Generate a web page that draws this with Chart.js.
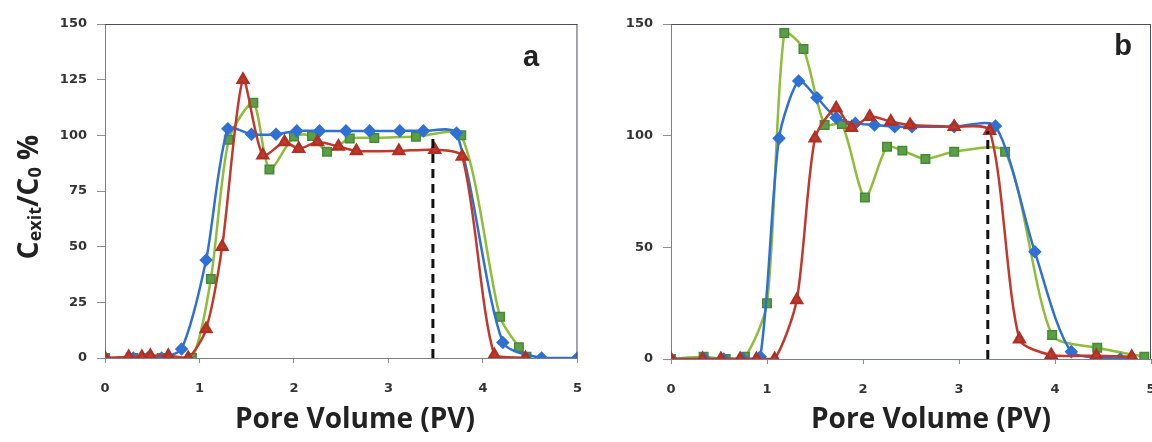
<!DOCTYPE html>
<html>
<head>
<meta charset="utf-8">
<script src="https://cdn.jsdelivr.net/npm/chart.js@4.4.1/dist/chart.umd.min.js"></script>
<style>
  html, body { margin: 0; padding: 0; background: #ffffff; overflow: hidden; }
  #wrap { position: relative; width: 1152px; height: 442px; overflow: hidden; }
  .panel { position: absolute; top: 0; height: 442px; }
  #pa { left: 0; width: 600px; }
  #pb { left: 600px; width: 580px; }
</style>
</head>
<body>
<div id="wrap">
  <div class="panel" id="pa"><canvas id="ca" width="600" height="442"></canvas></div>
  <div class="panel" id="pb"><canvas id="cb" width="580" height="442"></canvas></div>
</div>
<script>
// Panel a: exit concentration vs pore volume
const aBlueX  = [0, 0.30, 0.45, 0.60, 0.81, 1.07, 1.30, 1.55, 1.81, 2.03, 2.27, 2.55, 2.80, 3.12, 3.37, 3.72, 4.21, 4.62, 5.00];
const aBlueY  = [0, 0, 0, 0, 4, 44, 103, 100.5, 100.5, 102, 102, 102, 102, 102, 102, 101, 7, 0, 0];
const aGreenX = [0, 0.30, 0.45, 0.60, 0.92, 1.12, 1.31, 1.57, 1.74, 2.00, 2.19, 2.35, 2.59, 2.85, 3.29, 3.77, 4.18, 4.38, 4.46];
const aGreenY = [0, 0, 0, 0, 0, 35.5, 98, 114.6, 84.7, 99.5, 99.7, 92.6, 98.6, 98.8, 99.4, 100, 18.5, 4.8, 0.6];
const aRedX   = [0, 0.25, 0.39, 0.48, 0.67, 0.88, 1.07, 1.24, 1.46, 1.67, 1.90, 2.05, 2.25, 2.47, 2.66, 3.11, 3.49, 3.78, 4.12, 4.45];
const aRedY   = [0, 0.5, 0.5, 1, 1, 0, 13, 50, 125, 91, 97, 94, 97, 95, 93, 93, 93.5, 90.5, 1.3, 0];
const aMarkX  = [3.47, 3.47];
const aMarkY  = [0, 100];

// Panel b
const bBlueX  = [0, 0.35, 0.55, 0.75, 0.93, 1.125, 1.33, 1.52, 1.72, 1.92, 2.12, 2.33, 2.51, 2.95, 3.38, 3.79, 4.17, 4.68];
const bBlueY  = [0, 0, 0, 0, 1, 98.8, 124.5, 117, 108, 105.5, 104.8, 104, 104, 104, 104.3, 48, 3.3, 0];
const bGreenX = [0, 0.34, 0.57, 0.77, 1.00, 1.18, 1.38, 1.60, 1.78, 2.02, 2.25, 2.41, 2.65, 2.95, 3.48, 3.97, 4.44, 4.93];
const bGreenY = [0, 1, 0, 1, 25, 146, 138.8, 104.8, 105.2, 72.3, 95, 93.3, 89.6, 92.8, 92.8, 10.7, 5, 1];
const bRedX   = [0, 0.33, 0.52, 0.72, 0.89, 1.08, 1.31, 1.50, 1.72, 1.88, 2.07, 2.29, 2.49, 2.95, 3.32, 3.63, 3.96, 4.43, 4.80];
const bRedY   = [0, 0, 0, 0, 0, 0, 26.4, 98.8, 112.3, 103.6, 108.5, 106.3, 104.8, 104, 102.2, 8.8, 1.8, 1.5, 1.0];
const bMarkX  = [3.30, 3.30];
const bMarkY  = [0, 102];

const xTicks = [0, 1, 2, 3, 4, 5];
const aYTicks = [0, 25, 50, 75, 100, 125, 150];
const bYTicks = [0, 50, 100, 150];

const BLUE = '#2f70d4';
const RED = '#c0392b';
const GREEN_LINE = '#8fbd3a';
const GREEN_FILL = '#5c9e46';
const GREEN_EDGE = '#458a36';
const TICK_FONT = { family: 'DejaVu Sans', size: 13, weight: 'bold' };

function pts(xs, ys) { return xs.map((x, i) => ({ x: x, y: ys[i] })); }

function series(xs, ys, kind) {
  const base = { data: pts(xs, ys), showLine: true, tension: 0.25, borderWidth: 2.5 };
  if (kind === 'blue') return Object.assign(base, { borderColor: BLUE, backgroundColor: BLUE, pointStyle: 'rectRot', pointRadius: 5, pointBorderColor: BLUE });
  if (kind === 'red') return Object.assign(base, { borderColor: RED, backgroundColor: RED, pointStyle: 'triangle', pointRadius: 6, pointBorderColor: '#b03025' });
  return Object.assign(base, { borderColor: GREEN_LINE, backgroundColor: GREEN_FILL, pointStyle: 'rect', pointRadius: 6, pointBorderColor: GREEN_EDGE, pointBorderWidth: 1.5 });
}

function marker(xs, ys) {
  return { data: pts(xs, ys), showLine: true, tension: 0, borderColor: '#111111', borderWidth: 3, borderDash: [9, 6], pointRadius: 0 };
}

// frame around the plot area plus the panel's own texts
function decorations(opts) {
  return {
    id: 'decor',
    afterDraw(chart) {
      const ctx = chart.ctx, a = chart.chartArea;
      ctx.save();
      ctx.strokeStyle = '#4a4f5a';
      ctx.lineWidth = 1;
      ctx.beginPath();
      ctx.moveTo(a.left, a.top + 0.5); ctx.lineTo(a.right, a.top + 0.5);
      ctx.moveTo(a.right - 0.5, a.top); ctx.lineTo(a.right - 0.5, a.bottom);
      ctx.stroke();

      ctx.fillStyle = '#222222';
      ctx.font = 'bold 29px "Liberation Sans"';
      ctx.textAlign = 'center';
      ctx.textBaseline = 'alphabetic';
      ctx.fillText(opts.letter, opts.letterX, opts.letterY);

      ctx.font = 'bold 28px "Open Sans"';
      ctx.textBaseline = 'middle';
      ctx.fillText('Pore Volume (PV)', opts.titleX, 420);

      if (opts.yTitle) {
        const parts = [
          { t: 'C', f: 'bold 28px "Open Sans"', dy: 0 },
          { t: 'exit', f: 'bold 18px "Open Sans"', dy: 3 },
          { t: '/', f: 'bold 28px "Open Sans"', dy: 0 },
          { t: 'C', f: 'bold 28px "Open Sans"', dy: 0 },
          { t: '0', f: 'bold 18px "Open Sans"', dy: 3 },
          { t: ' %', f: 'bold 28px "Open Sans"', dy: 0 }
        ];
        let total = 0;
        parts.forEach(p => { ctx.font = p.f; p.w = ctx.measureText(p.t).width; total += p.w; });
        ctx.translate(38, 197);
        ctx.rotate(-Math.PI / 2);
        ctx.textAlign = 'left';
        ctx.textBaseline = 'alphabetic';
        let x = -total / 2;
        parts.forEach(p => { ctx.font = p.f; ctx.fillText(p.t, x, p.dy); x += p.w; });
      }
      ctx.restore();
    }
  };
}

function makeChart(id, sets, yTicks, axisW, padRight, xH, letterOpts) {
  return new Chart(document.getElementById(id), {
    type: 'scatter',
    data: { datasets: sets },
    options: {
      responsive: false,
      animation: false,
      layout: { padding: { top: 24, right: padRight, left: 0, bottom: 0 } },
      plugins: { legend: { display: false }, tooltip: { enabled: false } },
      scales: {
        x: {
          type: 'linear', min: 0, max: 5,
          afterBuildTicks(s) { s.ticks = xTicks.map(v => ({ value: v })); },
          afterFit(s) { s.height = xH; },
          border: { display: true, color: '#7a7f88', width: 1 },
          grid: { drawOnChartArea: false, drawTicks: true, tickLength: 5, color: '#8a8f98' },
          ticks: { font: TICK_FONT, color: '#333333', padding: 18, maxRotation: 0 }
        },
        y: {
          type: 'linear', min: 0, max: 150,
          afterBuildTicks(s) { s.ticks = yTicks.map(v => ({ value: v })); },
          afterFit(s) { s.width = axisW; },
          border: { display: true, color: '#7a7f88', width: 1 },
          grid: { drawOnChartArea: false, drawTicks: true, tickLength: 8, color: '#8a8f98' },
          ticks: { font: TICK_FONT, color: '#333333', padding: 10 }
        }
      }
    },
    plugins: [decorations(letterOpts)]
  });
}

makeChart('ca', [
  marker(aMarkX, aMarkY),
  series(aRedX, aRedY, 'red'),
  series(aBlueX, aBlueY, 'blue'),
  series(aGreenX, aGreenY, 'green')
], aYTicks, 105, 22, 84, { letter: 'a', letterX: 531, letterY: 66, titleX: 355, yTitle: true });

makeChart('cb', [
  marker(bMarkX, bMarkY),
  series(bRedX, bRedY, 'red'),
  series(bBlueX, bBlueY, 'blue'),
  series(bGreenX, bGreenY, 'green')
], bYTicks, 71, 29, 83, { letter: 'b', letterX: 523, letterY: 55, titleX: 331, yTitle: false });
</script>
</body>
</html>
